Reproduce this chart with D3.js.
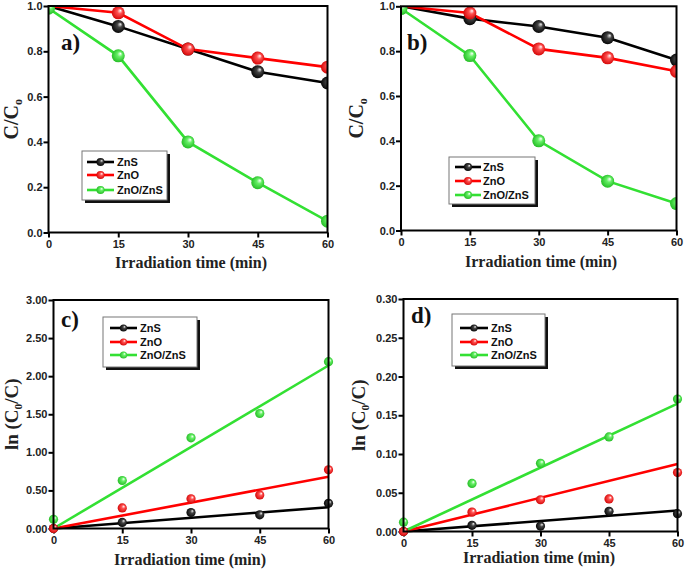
<!DOCTYPE html>
<html><head><meta charset="utf-8">
<script src="https://cdn.jsdelivr.net/npm/d3@7"></script>
<style>
html,body{margin:0;padding:0;background:#fff;}
svg{display:block;}
.tick text{font-family:"Liberation Sans",Arial,sans-serif;font-weight:bold;font-size:11px;fill:#222;}
</style></head>
<body>
<svg id="chart" width="685" height="571"></svg>
<script>
// ---------------- data ----------------
const timeMin = [0, 15, 30, 45, 60];
const seriesNames = ["ZnS", "ZnO", "ZnO/ZnS"];

// panel a) C/Co
const aZnS    = [1.00, 0.91, 0.81, 0.71, 0.66];
const aZnO    = [1.00, 0.97, 0.81, 0.77, 0.73];
const aZnOZnS = [0.99, 0.78, 0.40, 0.22, 0.05];
// panel b) C/Co
const bZnS    = [1.00, 0.945, 0.91, 0.86, 0.76];
const bZnO    = [1.00, 0.97, 0.81, 0.77, 0.71];
const bZnOZnS = [0.99, 0.78, 0.40, 0.22, 0.12];
// panel c) ln(Co/C)
const cZnS    = [0.00, 0.08, 0.21, 0.18, 0.33];
const cZnO    = [0.00, 0.27, 0.39, 0.44, 0.77];
const cZnOZnS = [0.12, 0.63, 1.19, 1.51, 2.19];
const cFitAt60 = [0.28, 0.68, 2.14];   // fitted line values at 60 min
// panel d) ln(Co/C)
const dZnS    = [0.000, 0.008, 0.007, 0.026, 0.023];
const dZnO    = [0.000, 0.025, 0.041, 0.042, 0.076];
const dZnOZnS = [0.012, 0.062, 0.088, 0.122, 0.171];
const dFitAt60 = [0.027, 0.087, 0.165];

const xTicks  = [0, 15, 30, 45, 60];
const abTicks = [0, 0.2, 0.4, 0.6, 0.8, 1.0];
const cTicks  = [0, 0.5, 1.0, 1.5, 2.0, 2.5, 3.0];
const dTicks  = [0, 0.05, 0.10, 0.15, 0.20, 0.25, 0.30];

// ---------------- style ----------------
const colors = ["#000000", "#ff0000", "#33e033"];
const svg = d3.select("#chart");
const defs = svg.append("defs");
const gradStops = [
  [["0%","#f4f4f4"],["35%","#444"],["100%","#000"]],
  [["0%","#ffffff"],["35%","#ff5050"],["100%","#d00000"]],
  [["0%","#ffffff"],["35%","#66f066"],["100%","#1fb81f"]]
];
gradStops.forEach((stops,i)=>{
  const g = defs.append("radialGradient").attr("id","sph"+i)
    .attr("cx","50%").attr("cy","50%").attr("r","55%").attr("fx","68%").attr("fy","32%");
  stops.forEach(s=>g.append("stop").attr("offset",s[0]).attr("stop-color",s[1]));
});

function panel(cfg){
  const x = d3.scaleLinear().domain([0,60]).range([cfg.x0,cfg.x1]);
  const y = d3.scaleLinear().domain(cfg.yDomain).range([cfg.yB,cfg.yT]);
  const g = svg.append("g");
  const clipId = "clip"+cfg.id;
  defs.append("clipPath").attr("id",clipId).append("rect")
    .attr("x",cfg.x0).attr("y",cfg.yT).attr("width",cfg.x1-cfg.x0).attr("height",cfg.yB-cfg.yT);

  // axes
  const ya = g.append("g").attr("transform",`translate(${cfg.x0},0)`)
    .call(d3.axisLeft(y).tickValues(cfg.yTicks).tickFormat(d3.format(cfg.fmt)).tickSize(5).tickPadding(1));
  const xa = g.append("g").attr("transform",`translate(0,${cfg.yB})`)
    .call(d3.axisBottom(x).tickValues(xTicks).tickFormat(d3.format("d")).tickSize(5).tickPadding(3));
  [ya,xa].forEach(a=>{a.select(".domain").remove(); a.selectAll(".tick line").attr("stroke","#000").attr("stroke-width",2);});

  // data
  const plot = g.append("g");
  const marks = plot.append("g");
  if (cfg.clip) marks.attr("clip-path",`url(#${clipId})`);
  cfg.series.forEach((vals,i)=>{
    const pts = timeMin.map((t,k)=>[t,vals[k]]);
    if (cfg.fit){
      marks.append("line").attr("x1",x(0)).attr("y1",y(0)).attr("x2",x(60)).attr("y2",y(cfg.fit[i]))
        .attr("stroke",colors[i]).attr("stroke-width",2.6);
    } else {
      marks.append("path").attr("d",d3.line().x(d=>x(d[0])).y(d=>y(d[1]))(pts))
        .attr("fill","none").attr("stroke",colors[i]).attr("stroke-width",2.6);
    }
  });
  cfg.series.forEach((vals,i)=>{
    marks.selectAll(null).data(timeMin.map((t,k)=>[t,vals[k]])).enter().append("circle")
      .attr("cx",d=>x(d[0])).attr("cy",d=>y(d[1])).attr("r",cfg.r)
      .attr("fill",`url(#sph${i})`);
  });

  // frame
  g.append("rect").attr("x",cfg.x0).attr("y",cfg.yT).attr("width",cfg.x1-cfg.x0).attr("height",cfg.yB-cfg.yT)
    .attr("fill","none").attr("stroke","#000").attr("stroke-width",2);

  // legend
  const L = cfg.leg;
  g.append("rect").attr("x",L.x+3).attr("y",L.y+3).attr("width",L.w).attr("height",L.h).attr("fill","#111");
  g.append("rect").attr("x",L.x).attr("y",L.y).attr("width",L.w).attr("height",L.h)
    .attr("fill","#fff").attr("stroke","#777").attr("stroke-width",1);
  seriesNames.forEach((n,i)=>{
    const yy = L.rows[i];
    g.append("line").attr("x1",L.lx0).attr("x2",L.lx1).attr("y1",yy).attr("y2",yy)
      .attr("stroke",colors[i]).attr("stroke-width",2.6);
    g.append("circle").attr("cx",(L.lx0+L.lx1)/2).attr("cy",yy).attr("r",L.r).attr("fill",`url(#sph${i})`);
    g.append("text").attr("x",L.tx).attr("y",yy+4).text(n)
      .attr("font-family","Liberation Sans, Arial, sans-serif").attr("font-weight","bold").attr("font-size",11).attr("fill","#111");
  });

  // panel label
  g.append("text").attr("x",cfg.lab[0]).attr("y",cfg.lab[1]).text(cfg.id+")")
    .attr("font-family","Liberation Serif, Times New Roman, serif").attr("font-weight","bold").attr("font-size",23).attr("fill","#111");

  // x title
  g.append("text").attr("x",cfg.xt[0]).attr("y",cfg.xt[1]).attr("text-anchor","middle")
    .attr("font-family","Liberation Serif, Times New Roman, serif").attr("font-weight","bold").attr("font-size",16).attr("fill","#222")
    .text("Irradiation time (min)");

  // y title
  const yt = g.append("text").attr("transform",`translate(${cfg.yt[0]},${(cfg.yT+cfg.yB)/2}) rotate(-90)`)
    .attr("text-anchor","middle")
    .attr("font-family","Liberation Serif, Times New Roman, serif").attr("font-weight","bold").attr("font-size",cfg.ytSize).attr("fill","#222");
  cfg.ytParts.forEach(p=>{
    const ts = yt.append("tspan").text(p[0]);
    if (p[1]==="sub") ts.attr("font-size",cfg.ytSize*0.6).attr("dy",4);
    if (p[1]==="up") ts.attr("dy",-4);
  });
}

panel({id:"a", x0:48.5, x1:327.5, yT:6, yB:232.5, yDomain:[0,1], yTicks:abTicks, fmt:".1f",
  series:[aZnS,aZnO,aZnOZnS], r:6.5, clip:true,
  leg:{x:82, y:151, w:85, h:49, rows:[162,175,190], lx0:87, lx1:114, tx:117, r:4},
  lab:[61,50], xt:[191,268], yt:[18], ytSize:20, ytParts:[["C/C"],["o","sub"]]});

panel({id:"b", x0:401, x1:676.5, yT:6.3, yB:230.5, yDomain:[0,1], yTicks:abTicks, fmt:".1f",
  series:[bZnS,bZnO,bZnOZnS], r:6.5, clip:true,
  leg:{x:449, y:157, w:86, h:47, rows:[167,181,195], lx0:455, lx1:481, tx:483, r:4},
  lab:[407,50], xt:[541,267], yt:[363], ytSize:20, ytParts:[["C/C"],["o","sub"]]});

panel({id:"c", x0:53.5, x1:328.5, yT:300, yB:528.5, yDomain:[0,3], yTicks:cTicks, fmt:".2f",
  series:[cZnS,cZnO,cZnOZnS], fit:cFitAt60, r:4.6, clip:false,
  leg:{x:103, y:317, w:94, h:50, rows:[328,342,355], lx0:110, lx1:137, tx:140, r:3.6},
  lab:[61,327], xt:[190,565], yt:[18], ytSize:19, ytParts:[["ln (C"],["0","sub"],["/C)","up"]]});

panel({id:"d", x0:403.5, x1:677.5, yT:299, yB:531.5, yDomain:[0,0.3], yTicks:dTicks, fmt:".2f",
  series:[dZnS,dZnO,dZnOZnS], fit:dFitAt60, r:4.6, clip:false,
  leg:{x:452, y:314, w:93, h:52, rows:[328,342,355], lx0:460, lx1:488, tx:491, r:3.6},
  lab:[411,323], xt:[539,563], yt:[365], ytSize:19, ytParts:[["ln (C"],["0","sub"],["/C)","up"]]});
</script>
</body></html>
